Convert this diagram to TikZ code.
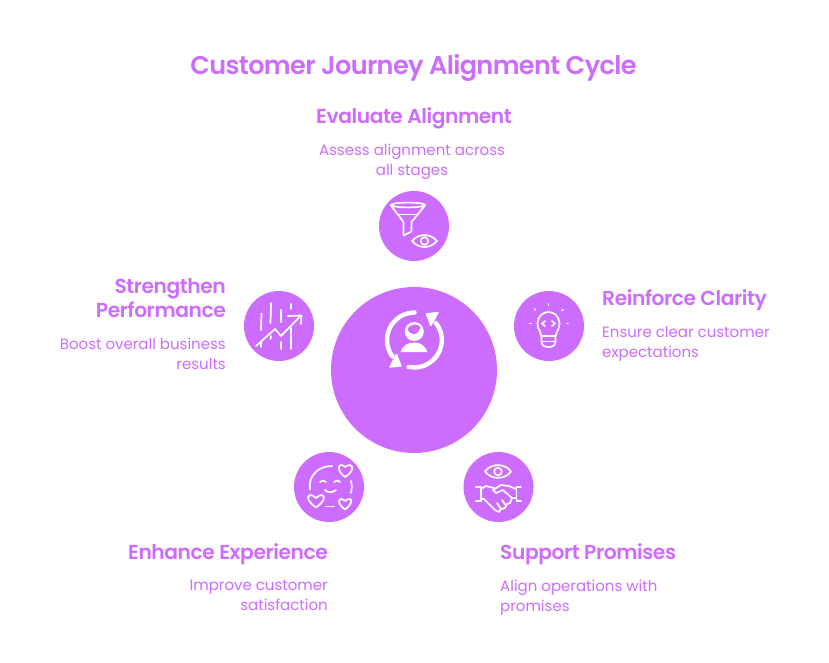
\documentclass[tikz,border=0pt]{standalone}
\usepackage{fontspec}
\setmainfont{Poppins}
\newfontfamily\medfont{Poppins SemiBold}[LetterSpace=-2.1]
\newfontfamily\ttlfont{Poppins SemiBold}[LetterSpace=-2.5]
\definecolor{pur}{HTML}{CC6DFF}
\tikzset{
  x=1pt,y=-1pt,
  hub/.style={circle,fill=pur,minimum size=166pt,inner sep=0pt},
  spot/.style={circle,fill=pur,minimum size=70pt,inner sep=0pt},
  ttl/.style={text=pur,font=\fontsize{25.6}{30}\ttlfont,inner sep=0pt},
  head/.style={text=pur,font=\fontsize{20.25}{24}\medfont,inner sep=0pt},
  body/.style={text=pur,font=\fontsize{15}{20}\selectfont,inner sep=0pt},
  ico/.style={draw=white,line width=1.7pt,line cap=round,line join=round},
  icob/.style={draw=white,line width=4.4pt,line cap=round,line join=round},
}
\begin{document}
\begin{tikzpicture}
\useasboundingbox (0,0) rectangle (829,662);
\fill[white] (0,0) rectangle (829,662);
\node[ttl] (title) at (413.5,67.5) {Customer Journey Alignment Cycle};
\node[hub] (hubc) at (414,370) {};
\node[spot] (s1) at (414,226) {};
\node[spot] (s2) at (549,326) {};
\node[spot] (s3) at (498.5,487) {};
\node[spot] (s4) at (329,487) {};
\node[spot] (s5) at (279,326) {};

\node[head,anchor=center] (h1) at (414,118.5) {Evaluate Alignment};
\node[body,align=center,anchor=north] (b1) at (412,144) {Assess alignment across\\all stages};
\node[head,anchor=west] (h2) at (602,300.5) {Reinforce Clarity};
\node[body,align=left,anchor=north west] (b2) at (602,326) {Ensure clear customer\\expectations};
\node[head,anchor=west] (h3) at (500,554.5) {Support Promises};
\node[body,align=left,anchor=north west] (b3) at (500,580) {Align operations with\\promises};
\node[head,anchor=east] (h4) at (328,554.5) {Enhance Experience};
\node[body,align=right,anchor=north east] (b4) at (328,580) {Improve customer\\satisfaction};
\node[head,align=right,anchor=north east] (h5) at (226,278.5) {Strengthen\\Performance};
\node[body,align=right,anchor=north east] (b5) at (226,338) {Boost overall business\\results};

% hub icon
\draw[icob] (414.5,312.5) arc[start angle=-90,end angle=-217,radius=27.5];
\draw[icob] (408.6,366.9) arc[start angle=102,end angle=-38,radius=27.5];
\fill[white,draw=white,line width=1.4pt,line join=round] (390,367) -- (401,366) -- (396.5,354.5) -- cycle;
\fill[white,draw=white,line width=1.4pt,line join=round] (426.5,314) -- (438,312.5) -- (431,325.5) -- cycle;
\fill[white] (414.3,331.5) circle[radius=9.5];
\fill[pur] (407.5,328.5) .. controls (409,335.5) and (418,337) .. (420.5,327) .. controls (418,323.5) and (411,323.5) .. (407.5,328.5) -- cycle;
\fill[white] (400.7,352) .. controls (403,345) and (408,342.5) .. (414,342.5) .. controls (420,342.5) and (425,345) .. (427.3,352) -- cycle;

% funnel + eye
\draw[ico] (408,205) ellipse[x radius=17,y radius=2.4];
\draw[ico] (391,205.5) -- (403.5,222) -- (403.5,235.5) -- (411.5,231.5) -- (411.5,222) -- (425,205.5);
\draw[ico] (398,214.5) -- (418,214.5);
\draw[ico] (412,241) .. controls (419,233) and (430,233) .. (437,241) .. controls (430,249) and (419,249) .. (412,241) -- cycle;
\draw[ico] (424.5,241) circle[radius=3.8];

% bulb
\draw[ico] (541,336) .. controls (541,331) and (537,329) .. (537.5,323) .. controls (538,316) and (543,312) .. (548.5,312) .. controls (554,312) and (559,316) .. (559.5,323) .. controls (560,329) and (556,331) .. (556,336) -- cycle;
\draw[ico] (542,341.5) -- (555,341.5);
\draw[ico] (541.5,336) -- (541.5,342) .. controls (542,346) and (545,347) .. (548.5,347) .. controls (552,347) and (555,346) .. (555.5,342) -- (555.5,336);
\draw[ico] (545,321) -- (542,323.5) -- (545,326);
\draw[ico] (552,321) -- (555,323.5) -- (552,326);
\draw[ico] (548.5,304) -- (548.5,305);
\draw[ico] (534.5,309) -- (535.5,310);
\draw[ico] (563,309.5) -- (562,310.5);
\draw[ico] (530,323.5) -- (531,323.5);
\draw[ico] (567,323.5) -- (568,323.5);

% handshake + eye
\draw[ico] (485,471.5) .. controls (491,463) and (505,463) .. (511,471.5) .. controls (505,480) and (491,480) .. (485,471.5) -- cycle;
\draw[ico] (498,471.5) circle[radius=3.8];
\draw[ico] (476,487) -- (481,487) -- (481,501) -- (476,501);
\draw[ico] (521,487) -- (516.5,487) -- (516.5,501) -- (521,501);
\draw[ico] (481,489) -- (486,486) -- (494,488);
\draw[ico] (516,489) -- (509,486) -- (501,485) -- (493,490) -- (496,493) -- (503,490) -- (512,498) -- (516,498);
\draw[ico] (481,499) -- (484,499) -- (495,510) -- (499,512) -- (501,509) -- (505,508) -- (507,504) -- (510,503) -- (512,498);
\draw[ico] (497,503) -- (501,509);
\draw[ico] (502,500) -- (505.5,505);

% face + hearts
\draw[ico] (310,489.5) .. controls (308,476) and (318,466) .. (332,466);
\draw[ico] (351,481) .. controls (352,484) and (352,488) .. (351,493);
\draw[ico] (326,506.5) -- (334,506.5);
\draw[ico] (320,482) .. controls (322,480) and (325,480) .. (326,482);
\draw[ico] (334,482) .. controls (336,480) and (339,480) .. (340,482);
\draw[ico] (325,490) .. controls (328,493) and (332,493) .. (336,490);
\draw[ico] (345,477) .. controls (337,471) and (338,465) .. (341,465) .. controls (343,465) and (344,466) .. (345,467) .. controls (346,466) and (348,465) .. (350,465) .. controls (354,466) and (353,472) .. (345,477) -- cycle;
\draw[ico] (316,507.5) .. controls (308,502) and (306,496) .. (310,495) .. controls (312,495) and (314,496) .. (316,498) .. controls (318,496) and (320,495) .. (322,495) .. controls (326,496) and (324,502) .. (316,507.5) -- cycle;
\draw[ico] (345,509.5) .. controls (339,505) and (337,500) .. (341,499) .. controls (343,499) and (344,500) .. (345,501) .. controls (346,500) and (348,499) .. (350,499) .. controls (353,500) and (351,505) .. (345,509.5) -- cycle;

% chart
\draw[ico] (256,346) -- (275,329) -- (281,336) -- (300,316.5);
\draw[ico] (288,316) -- (301.5,315.5) -- (301,324);
\draw[ico] (261.5,313.5) -- (261,330);
\draw[ico] (261,342) -- (261,347);
\draw[ico] (271,303) -- (270.5,323);
\draw[ico] (271,336) -- (270.5,339);
\draw[ico] (281,310) -- (281,322);
\draw[ico] (281,342) -- (281,349);
\draw[ico] (291,304) -- (291,309);
\draw[ico] (291,328) -- (291,349);
\end{tikzpicture}
\end{document}
